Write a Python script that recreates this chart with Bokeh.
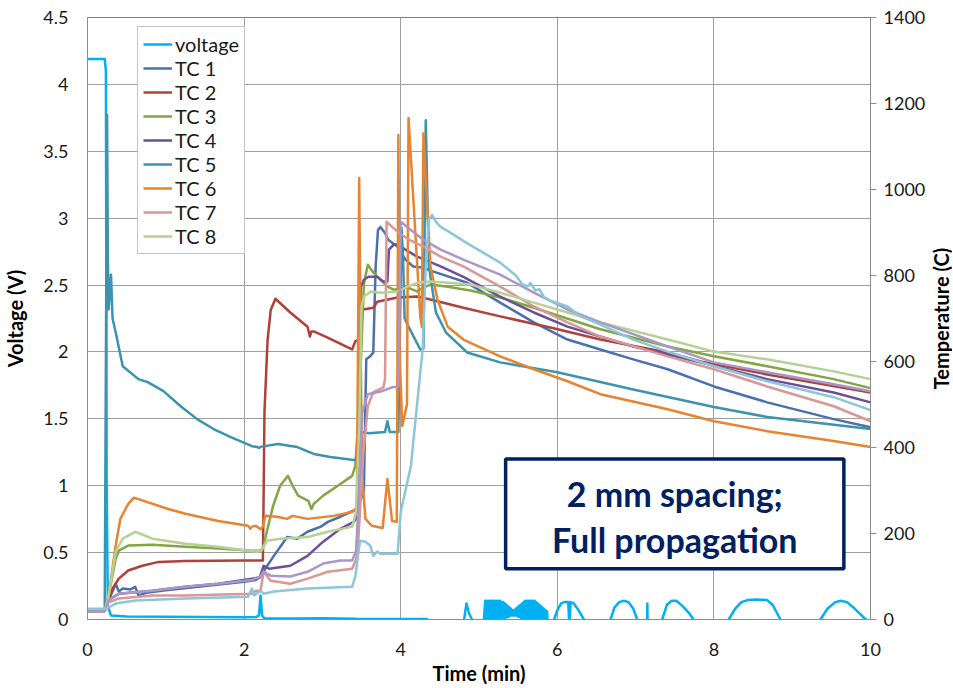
import math
from bokeh.plotting import figure
from bokeh.models import (Range1d, LinearAxis, Legend, LegendItem, BoxAnnotation,
                          Label, FixedTicker, NumeralTickFormatter)
from bokeh.embed import file_html
from bokeh.resources import INLINE

# ---------------- data (time in min, voltage in V, temperature in C) ----------------
v_t = [0, 0.22, 0.235, 0.245, 0.26, 0.30, 0.5, 1.0, 1.5, 2.0, 2.15, 2.19, 2.21, 2.23, 2.26,
       2.6, 3.0, 3.4, 3.45, 4.0, 4.34, 4.38, 4.78, 4.81, 4.84, 4.87, 4.91, 4.94, 5.05,
       5.08, 5.09, 5.10, 5.11, 5.13, 5.14, 5.15, 5.16, 5.17, 5.18, 5.19, 5.20, 5.21, 5.22,
       5.23, 5.24, 5.25, 5.26, 5.27, 5.28, 5.29, 5.30, 5.31, 5.32, 5.33, 5.34, 5.35, 5.36,
       5.37, 5.38, 5.39, 5.40, 5.41, 5.42, 5.43, 5.44, 5.45, 5.46, 5.47, 5.48, 5.49, 5.50,
       5.51, 5.52, 5.53, 5.54, 5.55, 5.56, 5.57, 5.58, 5.59, 5.60, 5.61, 5.62, 5.63, 5.64,
       5.65, 5.66, 5.67, 5.68, 5.69, 5.70, 5.71, 5.72, 5.73, 5.74, 5.75, 5.76, 5.77, 5.78,
       5.79, 5.80, 5.81, 5.82, 5.83, 5.84, 5.85, 5.86, 5.87, 5.88,
       5.93, 5.96, 6.0, 6.05, 6.09, 6.14, 6.15, 6.16, 6.17, 6.21, 6.27, 6.34, 6.37,
       6.66, 6.68, 6.73, 6.79, 6.85, 6.91, 6.97, 7.02, 7.05,
       7.145, 7.15, 7.155,
       7.31, 7.34, 7.40, 7.46, 7.52, 7.60, 7.68, 7.74, 7.77,
       8.16, 8.19, 8.27, 8.35, 8.43, 8.55, 8.68, 8.75, 8.85, 8.88,
       9.33, 9.36, 9.45, 9.55, 9.62, 9.70, 9.80, 9.94, 9.97, 10]
voltage = [4.19, 4.19, 4.1, 1.0, 0.10, 0.03, 0.022, 0.02, 0.018, 0.016, 0.018, 0.03, 0.18, 0.03, 0.008,
           0.008, 0.01, 0.006, 0.003, 0.003, 0.003, -0.1, -0.1, 0.0, 0.12, 0.05, 0.0, -0.1, -0.1,
           0.14, -0.02, 0.14, -0.02, 0.14, -0.02, 0.14, -0.02, 0.14, -0.02, 0.14, -0.02, 0.14, -0.02,
           0.14, -0.02, 0.14, -0.02, 0.14, 0.0, 0.13, 0.0, 0.13, 0.01, 0.12, 0.01, 0.11, 0.02,
           0.10, 0.02, 0.09, 0.03, 0.08, 0.03, 0.07, 0.03, 0.07, 0.03, 0.08, 0.03, 0.09, 0.02,
           0.10, 0.02, 0.11, 0.01, 0.12, 0.0, 0.13, 0.0, 0.14, -0.02, 0.14, -0.02, 0.14, -0.02,
           0.14, -0.02, 0.14, -0.02, 0.14, -0.02, 0.14, -0.02, 0.13, -0.02, 0.12, 0.0, 0.11, 0.0,
           0.10, 0.0, 0.09, 0.0, 0.08, 0.0, 0.07, -0.02, 0.06, -0.1,
           -0.1, 0.0, 0.07, 0.12, 0.13, 0.13, 0.0, 0.0, 0.13, 0.12, 0.07, 0.0, -0.1,
           -0.1, 0.0, 0.09, 0.13, 0.14, 0.13, 0.08, 0.0, -0.1,
           -0.1, 0.12, -0.1,
           -0.1, 0.0, 0.11, 0.14, 0.14, 0.10, 0.05, 0.0, -0.1,
           -0.1, 0.0, 0.08, 0.13, 0.145, 0.15, 0.145, 0.11, 0.0, -0.1,
           -0.1, 0.0, 0.08, 0.13, 0.14, 0.13, 0.08, 0.0, -0.1, -0.1]

tc1_t = [0, 0.22, 0.27, 0.33, 0.36, 0.40, 0.45, 0.55, 0.61, 0.65, 0.75, 1.0, 1.5, 2.0, 2.15,
         2.22, 2.27, 2.38, 2.55, 2.68, 2.81, 2.98, 3.07, 3.23, 3.36, 3.45, 3.53, 3.56, 3.61,
         3.65, 3.68, 3.71, 3.74, 3.80, 3.84, 3.96, 4.06, 4.16, 4.29, 4.42, 4.85, 5.27, 5.70,
         6.13, 6.55, 6.97, 7.41, 8.0, 8.68, 9.53, 10]
tc1 = [20, 20, 45, 70, 83, 65, 72, 70, 76, 56, 62, 68, 78, 88, 92,
       100, 118, 148, 192, 188, 204, 216, 227, 239, 250, 258, 300, 605, 612,
       621, 821, 906, 913, 899, 883, 867, 837, 821, 818, 809, 783, 737, 691,
       651, 628, 605, 582, 542, 505, 466, 447]

tc2_t = [0, 0.22, 0.23, 0.32, 0.40, 0.52, 0.70, 0.91, 1.25, 2.0, 2.24, 2.25, 2.26, 2.30, 2.34,
         2.40, 2.59, 2.81, 2.84, 2.86, 2.89, 3.06, 3.38, 3.42, 3.46, 3.52, 3.65, 3.70, 3.96,
         4.21, 4.38, 4.80, 5.27, 5.91, 6.55, 7.41, 7.83, 8.68, 10]
tc2 = [20, 20, 25, 72, 95, 114, 125, 134, 136, 137, 137, 300, 482, 650, 720,
       746, 714, 681, 658, 670, 670, 656, 628, 647, 651, 721, 725, 739, 749,
       751, 744, 725, 705, 679, 651, 621, 600, 570, 528]

tc3_t = [0, 0.22, 0.27, 0.36, 0.40, 0.52, 0.83, 1.25, 1.67, 2.1, 2.2, 2.24, 2.29, 2.37, 2.46,
         2.56, 2.62, 2.69, 2.82, 2.86, 2.89, 3.01, 3.23, 3.38, 3.42, 3.47, 3.53, 3.58, 3.65,
         3.74, 3.83, 3.91, 4.09, 4.21, 4.29, 4.38, 4.60, 4.89, 5.27, 5.70, 6.55, 7.41, 8.0,
         8.68, 9.53, 10]
tc3 = [20, 20, 56, 141, 160, 172, 174, 169, 165, 160, 160, 165, 204, 264, 311,
       334, 311, 288, 276, 257, 269, 288, 315, 334, 357, 500, 780, 825, 807,
       790, 774, 767, 772, 763, 772, 779, 774, 765, 749, 725, 675, 635, 612,
       589, 559, 538]

tc4_t = [0, 0.22, 0.27, 0.40, 0.83, 1.25, 1.67, 2.1, 2.2, 2.25, 2.32, 2.59, 2.81, 3.01, 3.23,
         3.40, 3.45, 3.47, 3.49, 3.53, 3.59, 3.70, 3.78, 3.83, 3.85, 3.91, 3.97, 4.06, 4.21,
         4.51, 4.80, 5.27, 5.70, 6.13, 6.97, 7.83, 8.68, 9.53, 10]
tc4 = [20, 20, 45, 60, 67, 76, 83, 95, 98, 125, 118, 125, 148, 181, 211,
       227, 240, 500, 774, 790, 797, 797, 786, 786, 860, 872, 872, 860, 844,
       821, 797, 751, 714, 681, 635, 598, 559, 528, 505]

tc5_t = [0, 0.22, 0.25, 0.26, 0.27, 0.30, 0.32, 0.36, 0.45, 0.65, 0.77, 0.97, 1.19, 1.40,
         1.61, 1.83, 2.10, 2.17, 2.19, 2.22, 2.43, 2.68, 2.89, 3.10, 3.40, 3.45, 3.48, 3.60,
         3.80, 3.83, 3.86, 3.97, 4.01, 4.03, 4.05, 4.10, 4.25, 4.29, 4.32, 4.36, 4.45, 4.58,
         4.85, 5.27, 6.0, 6.97, 8.0, 8.68, 10]
tc5 = [20, 20, 1173, 844, 721, 802, 700, 668, 589, 559, 552, 531, 496, 466,
       443, 424, 403, 401, 399, 402, 408, 401, 385, 378, 371, 372, 436, 433,
       436, 461, 436, 436, 911, 843, 700, 681, 628, 630, 1161, 820, 714, 667,
       621, 598, 575, 535, 494, 471, 443]

tc6_t = [0, 0.22, 0.27, 0.36, 0.42, 0.52, 0.59, 0.65, 1.03, 1.25, 1.67, 2.05, 2.08, 2.10,
         2.15, 2.21, 2.24, 2.27, 2.42, 2.55, 2.62, 2.81, 3.14, 3.38, 3.44, 3.47, 3.49, 3.51,
         3.55, 3.63, 3.77, 3.83, 3.89, 3.95, 3.97, 3.99, 4.02, 4.08, 4.10, 4.25, 4.27, 4.29,
         4.38, 4.47, 4.60, 4.80, 5.27, 5.70, 6.13, 6.55, 7.41, 8.0, 8.68, 9.53, 10]
tc6 = [20, 20, 56, 172, 234, 269, 283, 280, 257, 246, 229, 218, 211, 216,
       218, 210, 216, 241, 239, 234, 241, 234, 241, 250, 260, 1027, 600, 330,
       234, 218, 213, 327, 229, 227, 1127, 600, 450, 500, 1166, 705, 680, 1131,
       821, 744, 681, 651, 612, 582, 554, 524, 489, 461, 438, 415, 401]

tc7_t = [0, 0.22, 0.27, 0.40, 0.83, 1.25, 2.1, 2.15, 2.21, 2.25, 2.34, 2.59, 2.81, 3.07,
         3.38, 3.43, 3.46, 3.52, 3.58, 3.65, 3.78, 3.80, 3.82, 3.89, 3.98, 4.11, 4.29, 4.51,
         4.80, 5.27, 5.70, 6.13, 6.55, 7.41, 8.0, 8.68, 9.53, 10]
tc7 = [20, 20, 40, 49, 56, 56, 60, 67, 67, 111, 90, 83, 95, 111,
       118, 140, 188, 380, 496, 529, 540, 560, 925, 913, 899, 883, 867, 844,
       821, 774, 728, 691, 658, 612, 582, 542, 496, 461]

tc8_t = [0, 0.22, 0.27, 0.36, 0.45, 0.61, 0.83, 1.25, 1.67, 2.05, 2.15, 2.22, 2.29, 2.46,
         2.81, 3.07, 3.38, 3.43, 3.47, 3.50, 3.53, 3.62, 3.74, 3.96, 4.09, 4.21, 4.38, 4.60,
         4.89, 5.27, 5.70, 6.13, 6.55, 7.41, 8.0, 8.68, 9.53, 10]
tc8 = [20, 20, 56, 158, 188, 204, 188, 176, 169, 160, 158, 160, 183, 188,
       192, 204, 216, 250, 450, 728, 751, 763, 760, 763, 774, 783, 786, 783,
       779, 760, 737, 714, 691, 651, 623, 605, 577, 559]

tc9_t = [0, 0.22, 0.27, 0.40, 0.83, 1.25, 1.67, 2.1, 2.21, 2.25, 2.34, 2.59, 2.81, 3.01,
         3.23, 3.38, 3.43, 3.47, 3.51, 3.58, 3.76, 3.89, 3.97, 3.99, 4.0, 4.13, 4.29, 4.51,
         4.80, 5.27, 5.70, 6.13, 6.55, 7.41, 8.0, 8.68, 9.53, 10]
tc9 = [20, 20, 45, 60, 67, 76, 83, 92, 100, 111, 102, 100, 111, 130,
       137, 137, 160, 300, 482, 524, 531, 540, 542, 800, 925, 906, 883, 860,
       837, 802, 760, 721, 691, 635, 598, 575, 547, 531]

tc10_t = [0, 0.24, 0.36, 0.61, 1.25, 2.05, 2.10, 2.13, 2.21, 2.25, 2.38, 2.81, 3.38, 3.42,
          3.48, 3.55, 3.61, 3.65, 3.70, 3.74, 3.96, 4.0, 4.13, 4.19, 4.28, 4.32, 4.36, 4.40,
          4.45, 4.51, 4.64, 4.84, 5.27, 5.47, 5.55, 5.62, 5.66, 5.72, 5.77, 5.83, 5.93, 6.13,
          6.30, 6.55, 6.97, 7.41, 8.0, 8.68, 9.53, 10]
tc10 = [25, 25, 37, 44, 49, 53, 72, 56, 67, 60, 65, 72, 76, 100,
        183, 181, 172, 148, 158, 153, 153, 250, 357, 466, 628, 821, 930, 941,
        925, 913, 899, 876, 830, 800, 780, 775, 782, 765, 768, 750, 740, 728,
        705, 686, 651, 623, 589, 554, 517, 487]

legend_labels = ["voltage", "TC 1", "TC 2", "TC 3", "TC 4", "TC 5", "TC 6", "TC 7", "TC 8"]
right_title = "Temperature (C)"
x_ticks = [0, 2, 4, 6, 8, 10]
v_ticks = [0, 0.5, 1, 1.5, 2, 2.5, 3, 3.5, 4, 4.5]
t_ticks = [0, 200, 400, 600, 800, 1000, 1200, 1400]

# ---------------- styling ----------------
FONT = "Lato"
colors = ["#00B0F0", "#4A70AE", "#B0403C", "#84A544", "#6C4F98", "#3B93AD",
          "#E8832F", "#D99795", "#B6D196", "#A898C8", "#8CC6D8"]

W, H = 952, 687
p = figure(width=W, height=H, x_range=Range1d(0, 10), y_range=Range1d(0, 4.5),
           output_backend="svg", toolbar_location=None,
           min_border_left=87, min_border_right=W - 870, min_border_top=17,
           min_border_bottom=H - 621)
p.extra_y_ranges = {"temp": Range1d(0, 1400)}

p.outline_line_color = "#7F7F7F"
p.background_fill_color = "white"
p.border_fill_color = "white"

# axes
p.xaxis.ticker = FixedTicker(ticks=x_ticks)
p.yaxis.ticker = FixedTicker(ticks=v_ticks)
p.yaxis.formatter = NumeralTickFormatter(format="0.[0]")
p.xaxis.axis_label = "Time (min)"
p.yaxis.axis_label = "Voltage (V)"

right = LinearAxis(y_range_name="temp", ticker=FixedTicker(ticks=t_ticks))
p.add_layout(right, "right")

for ax in [p.xaxis[0], p.yaxis[0], right]:
    ax.axis_line_color = "#8C8C8C"
    ax.major_tick_in = 0
    ax.minor_tick_line_color = None
    ax.major_label_text_font = FONT
    ax.major_label_text_font_size = "18px"
    ax.major_label_text_color = "#1A1A1A"
    ax.axis_label_text_font = FONT
    ax.axis_label_text_font_size = "20px"
    ax.axis_label_text_font_style = "bold"
    ax.axis_label_text_color = "black"

p.xaxis.major_tick_out = 0
p.yaxis[0].major_tick_out = 0
right.major_tick_out = 6
right.major_tick_line_color = "#8C8C8C"
p.xaxis.major_label_standoff = 23
p.xaxis.axis_label_standoff = 2
p.yaxis[0].major_label_standoff = 19
p.yaxis[0].axis_label_standoff = 13
right.major_label_standoff = 7

# right axis title, reading bottom-to-top like the left one (drawn in the right panel)
p.add_layout(Label(x=10, y=2.25, x_offset=70, text=right_title, angle=math.pi / 2,
                   text_align="center", text_baseline="middle", text_font=FONT,
                   text_font_size="20px", text_font_style="bold", text_color="black"),
             "right")

p.xgrid.ticker = FixedTicker(ticks=x_ticks)
p.ygrid.ticker = FixedTicker(ticks=v_ticks)
p.xgrid.grid_line_color = "#A0A0A0"
p.ygrid.grid_line_color = "#A0A0A0"

# lines
renderers = []
r = p.line(v_t, voltage, line_color=colors[0], line_width=2.5, line_join="round")
renderers.append(r)
series = [(tc1_t, tc1), (tc2_t, tc2), (tc3_t, tc3), (tc4_t, tc4), (tc5_t, tc5),
          (tc6_t, tc6), (tc7_t, tc7), (tc8_t, tc8), (tc9_t, tc9), (tc10_t, tc10)]
for i, (tx, ty) in enumerate(series):
    r = p.line(tx, ty, y_range_name="temp", line_color=colors[i + 1], line_width=2.5,
               line_join="round")
    renderers.append(r)

legend = Legend(items=[LegendItem(label=lab, renderers=[renderers[i]])
                       for i, lab in enumerate(legend_labels)],
                location=(50, 365))
legend.label_text_font = FONT
legend.label_text_font_size = "20px"
legend.label_text_color = "#1A1A1A"
legend.glyph_width = 29
legend.glyph_height = 24
legend.label_height = 24
legend.label_standoff = 3
legend.spacing = 0
legend.padding = 5
legend.margin = 0
legend.border_line_color = "#8C8C8C"
legend.border_line_width = 1
legend.background_fill_alpha = 1
p.add_layout(legend)

# annotation box
box = BoxAnnotation(left=5.34, right=9.66, bottom=0.38, top=1.20,
                    fill_color="white", fill_alpha=1.0,
                    line_color="#002060", line_alpha=1.0, line_width=3.5)
p.add_layout(box)
for txt, yy in [("2 mm spacing;", 0.94), ("Full propagation", 0.60)]:
    p.add_layout(Label(x=7.5, y=yy, text=txt, text_align="center", text_baseline="middle",
                       text_font=FONT, text_font_size="34px", text_font_style="bold",
                       text_color="#002060"))

open("out.html", "w").write(file_html(p, INLINE))
